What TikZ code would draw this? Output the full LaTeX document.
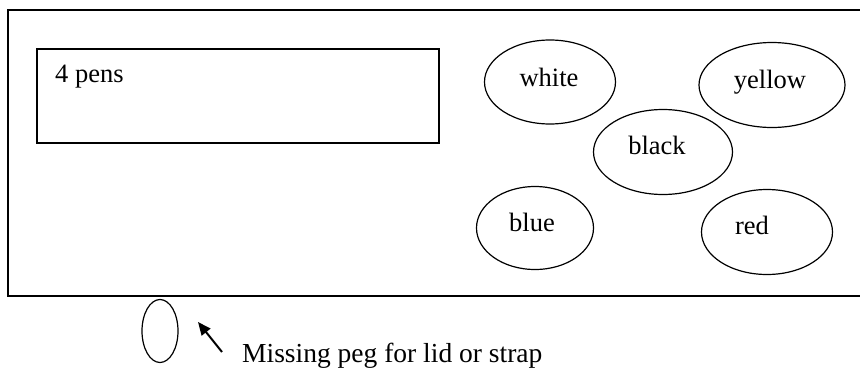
\documentclass[tikz,border=0pt]{standalone}
\usepackage{fontspec}
\setmainfont{Liberation Serif}
\usetikzlibrary{shapes.geometric,arrows.meta}
\begin{document}
\begin{tikzpicture}[x=1pt,y=-1pt,
  frame/.style={draw=black,line width=1.6pt},
  pen/.style={draw=black,line width=1.2pt,ellipse,inner sep=0pt},
  lbl/.style={font=\fontsize{26.5}{30}\selectfont,inner sep=0pt,anchor=base}]
\useasboundingbox (0,0) rectangle (860,370);
% case outline (open on the right)
\draw[frame] (860,10) -- (8,10) -- (8,296) -- (860,296);
% compartment
\node[frame,rectangle,minimum width=402pt,minimum height=94pt,inner sep=0pt,anchor=north west] (box) at (36,48) {};
\node[lbl,anchor=base west] (pens) at (55,82) {4 pens};
% pen holes
\node[pen,minimum width=131pt,minimum height=84pt] (white) at (550,82) {};
\node[lbl] (twhite) at (549,86) {white};
\node[pen,minimum width=146pt,minimum height=85pt] (yellow) at (772,85) {};
\node[lbl] (tyellow) at (770,88) {yellow};
\node[pen,minimum width=139pt,minimum height=85pt] (black) at (663,152) {};
\node[lbl] (tblack) at (657,154) {black};
\node[pen,minimum width=117pt,minimum height=83pt] (blue) at (535,228) {};
\node[lbl] (tblue) at (532,231) {blue};
\node[pen,minimum width=131pt,minimum height=85pt] (red) at (767,232) {};
\node[lbl] (tred) at (752,234) {red};
% missing peg
\node[pen,minimum width=36pt,minimum height=63pt] (peg) at (160,331) {};
\coordinate (atail) at (222,352);
\coordinate (ahead) at (198,322);
\draw[line width=2pt,-{Triangle[length=13pt,width=11pt]}] (atail) -- (ahead);
\node[lbl,anchor=base west,font=\fontsize{27.5}{30}\selectfont] (note) at (242,362) {Missing peg for lid or strap};
\end{tikzpicture}
\end{document}
